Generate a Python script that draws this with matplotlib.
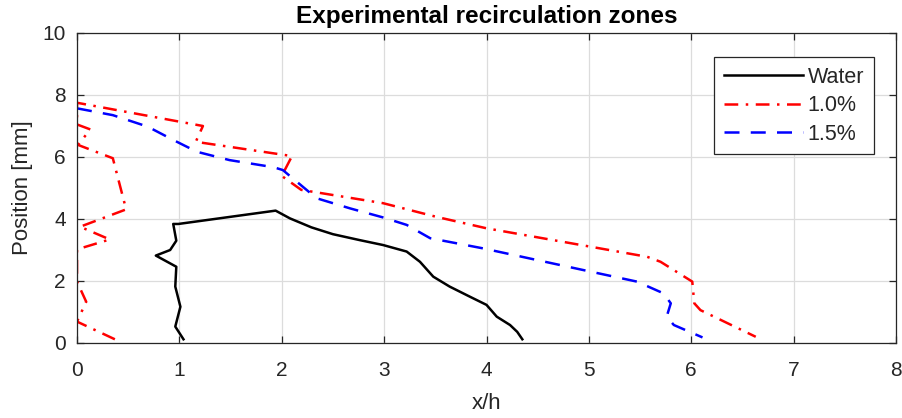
import numpy as np
import matplotlib.pyplot as plt

plt.rcParams['font.family'] = ['Liberation Sans', 'DejaVu Sans']

# Water
water_x = [1.04, 0.96, 1.01, 0.96, 0.97, 0.77, 0.91, 0.97, 0.94, 0.99, 1.94,
           2.08, 2.29, 2.50, 2.76, 2.99, 3.22, 3.35, 3.48, 3.64, 3.84, 4.00,
           4.10, 4.23, 4.30, 4.35]
water_y = [0.12, 0.53, 1.17, 1.82, 2.46, 2.82, 3.00, 3.30, 3.84, 3.84, 4.27,
           4.02, 3.73, 3.51, 3.32, 3.16, 2.95, 2.62, 2.14, 1.82, 1.49, 1.23,
           0.85, 0.58, 0.36, 0.12]

# 1.0 %
c10_x = [0.37, 0.0, 0.09, 0.0, 0.0, 0.0, 0.32, 0.03, 0.48, 0.35, 0.01, 0.13,
         0.0, 0.0, 1.23, 1.16, 2.10, 2.00, 2.19, 2.99, 3.51, 4.00, 5.01, 5.57,
         5.70, 6.01, 6.03, 6.09, 6.63]
c10_y = [0.12, 0.69, 1.33, 1.98, 2.41, 3.02, 3.34, 3.75, 4.31, 5.96, 6.39,
         6.89, 7.05, 7.75, 7.00, 6.49, 6.03, 5.39, 4.94, 4.51, 4.07, 3.70,
         3.11, 2.78, 2.62, 1.98, 1.28, 1.06, 0.20]

# 1.5 %
c15_x = [0.0, 0.35, 0.69, 0.94, 1.17, 1.49, 1.92, 2.01, 2.34, 2.67, 2.99,
         3.22, 3.45, 3.97, 4.95, 5.47, 5.73, 5.80, 5.76, 5.83, 6.11]
c15_y = [7.57, 7.35, 6.98, 6.55, 6.17, 5.90, 5.67, 5.58, 4.67, 4.34, 4.05,
         3.81, 3.38, 3.05, 2.35, 1.98, 1.60, 1.28, 0.85, 0.58, 0.18]

fig = plt.figure(figsize=(9.02, 4.18), dpi=100)
ax = fig.add_axes([77 / 902, 1 - 343 / 418, 819 / 902, 310 / 418])

lw = 1.8
ax.plot(water_x, water_y, '-', color='k', lw=lw, label='Water')
ax.plot(c10_x, c10_y, color='red', lw=lw, label='1.0%',
        dashes=(5.5, 3, 1, 3))
ax.plot(c15_x, c15_y, color='blue', lw=lw, label='1.5%',
        dashes=(6, 4.5))

ax.set_xlim(0, 8)
ax.set_ylim(0, 10)
ax.set_xticks(np.arange(0, 9, 1))
ax.set_yticks(np.arange(0, 11, 2))
ax.grid(True, color='#dcdcdc', lw=0.9)
ax.set_axisbelow(True)

gray = '#262626'
for s in ax.spines.values():
    s.set_color(gray)
    s.set_linewidth(0.9)
    s.set_zorder(5)
ax.tick_params(direction='in', length=5, width=0.9, colors=gray,
               labelsize=15, top=True, right=True)
ax.tick_params(axis='x', pad=13)
ax.tick_params(axis='y', pad=8)

ax.set_title('Experimental recirculation zones', fontsize=17.5,
             fontweight='bold', pad=7)
ax.set_xlabel('x/h', fontsize=16, color=gray, labelpad=9)
ax.set_ylabel('Position [mm]', fontsize=16, color=gray, labelpad=7)

leg = ax.legend(loc='upper right', bbox_to_anchor=(0.973, 0.923),
                fontsize=15.5, fancybox=False, framealpha=1,
                edgecolor=gray, handlelength=3.7, borderpad=0.45,
                labelspacing=0.35, handletextpad=0.2, borderaxespad=0)
leg.get_frame().set_linewidth(0.9)
for t in leg.get_texts():
    t.set_color(gray)

fig.savefig('out.png', dpi=100)
